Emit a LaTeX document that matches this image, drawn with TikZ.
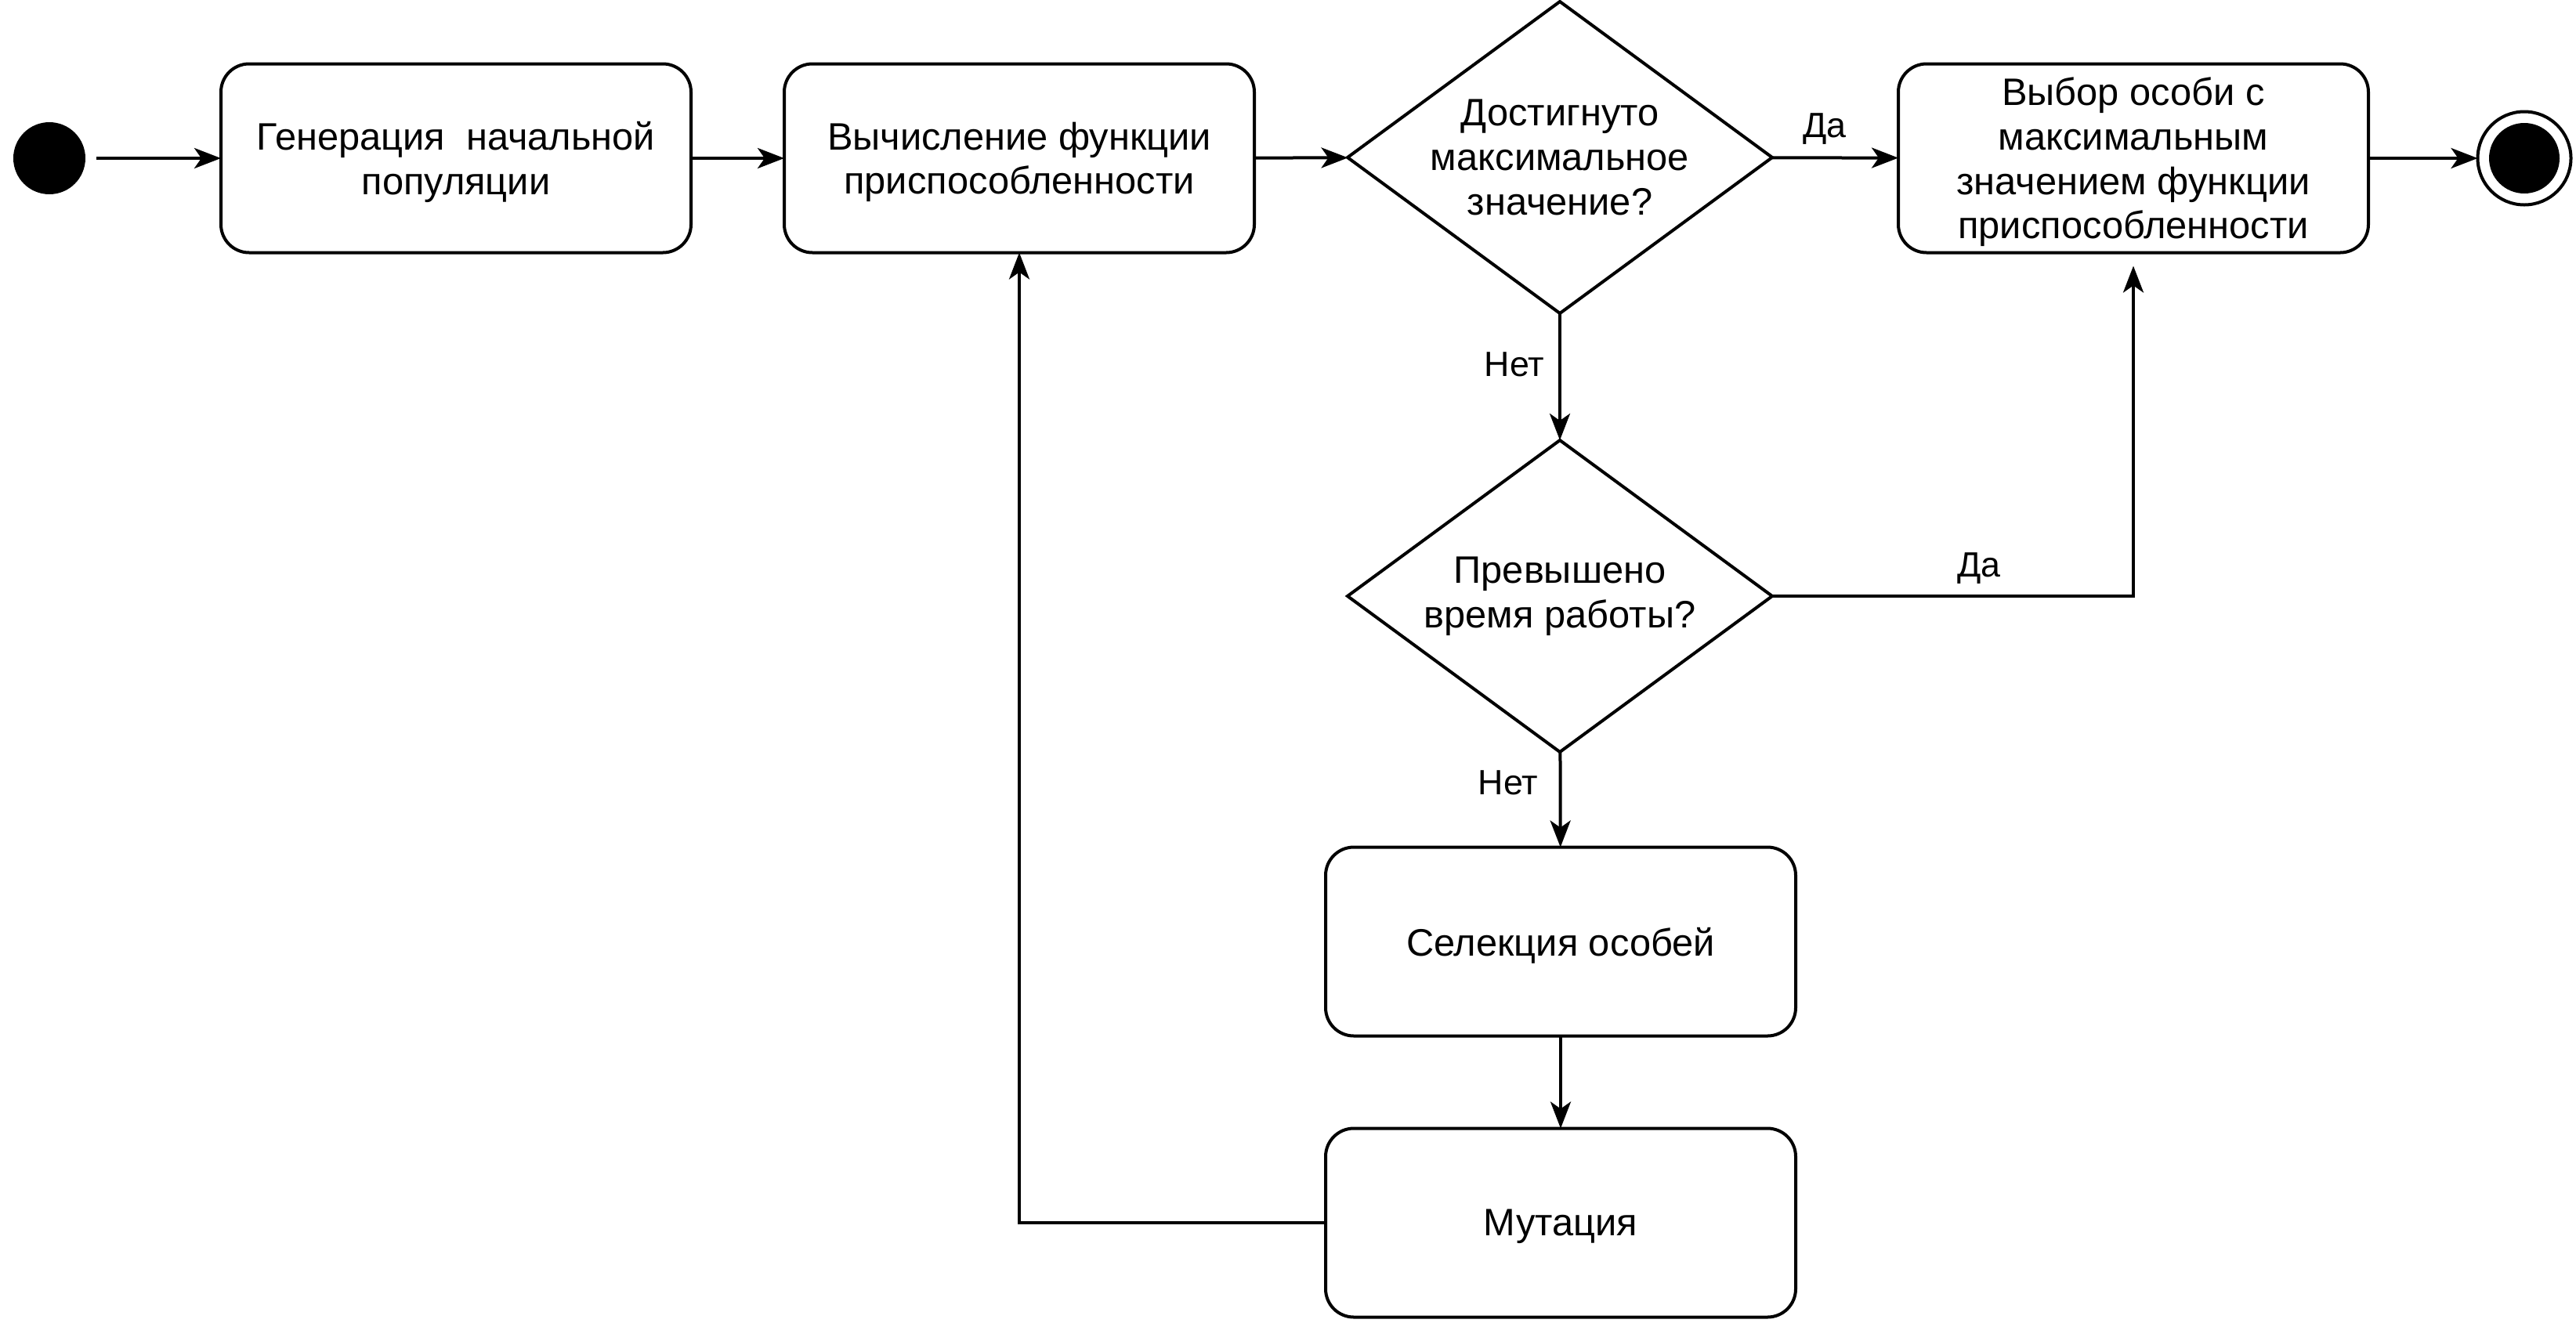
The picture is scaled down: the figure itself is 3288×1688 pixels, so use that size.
\documentclass[tikz,border=0pt]{standalone}
\usepackage{fontspec}
\setmainfont{Liberation Sans}
\usetikzlibrary{arrows.meta,shapes.geometric}
\begin{document}
\begin{tikzpicture}[x=0.5pt,y=-0.5pt,
  every node/.style={font=\fontsize{24.4}{28.3}\selectfont},
  act/.style={draw, line width=2pt, rounded corners=18pt, minimum width=300pt,
    minimum height=120.5pt, inner sep=0pt, outer sep=0pt,
    label={[align=center,yshift=-2.5pt]center:#1}},
  decision/.style={draw, diamond, line width=2pt, minimum width=271pt,
    minimum height=199pt, inner sep=0pt, outer sep=0pt, aspect=1.36,
    label={[align=center]center:#1}},
  lbl/.style={font=\fontsize{22.4}{26}\selectfont, inner sep=0pt, anchor=base},
  flow/.style={line width=2pt, -{Stealth[length=17pt,width=13pt,inset=4.5pt]}},
]
\useasboundingbox (0,0) rectangle (3288,1688);

\node[circle, fill, minimum size=46pt, inner sep=0pt, outer sep=0pt] (start) at (63,202) {};
\node[act={Генерация~~начальной\\популяции}] (gen) at (582,202) {};
\node[act={Вычисление функции\\приспособленности}] (fit) at (1301,202) {};
\node[decision={Достигнуто\\максимальное\\значение?}] (d1) at (1991,201) {};
\node[act={Выбор особи с\\максимальным\\значением функции\\приспособленности}] (res) at (2723,202) {};
\node[circle, draw, line width=2pt, minimum size=59.5pt, inner sep=0pt, outer sep=0pt] (end) at (3222,202) {};
\node[circle, fill, minimum size=45pt, inner sep=0pt] (endin) at (end) {};

\node[decision={Превышено\\время работы?}] (d2) at (1991,761) {};
\node[act={Селекция особей}] (sel) at (1992,1202) {};
\node[act={Мутация}] (mut) at (1992,1561) {};

\draw[flow, shorten <=7pt] (start) -- (gen);
\draw[flow] (gen) -- (fit);
\draw[flow] (fit) -- (d1);
\draw[flow] (d1) -- (res);
\draw[flow] (res) -- (end);
\draw[flow] (d1) -- (d2);
\draw[flow] (d2.east) -| ([yshift=-8.5pt]res.south);
\draw[flow] (d2) -- (sel);
\draw[flow] (sel) -- (mut);
\draw[flow] (mut.west) -| (fit.south);

\node[lbl] (yes1) at (2329,175) {Да};
\node[lbl] (no1) at (1933,480) {Нет};
\node[lbl] (yes2) at (2526,736) {Да};
\node[lbl] (no2) at (1925,1014) {Нет};
\end{tikzpicture}
\end{document}
